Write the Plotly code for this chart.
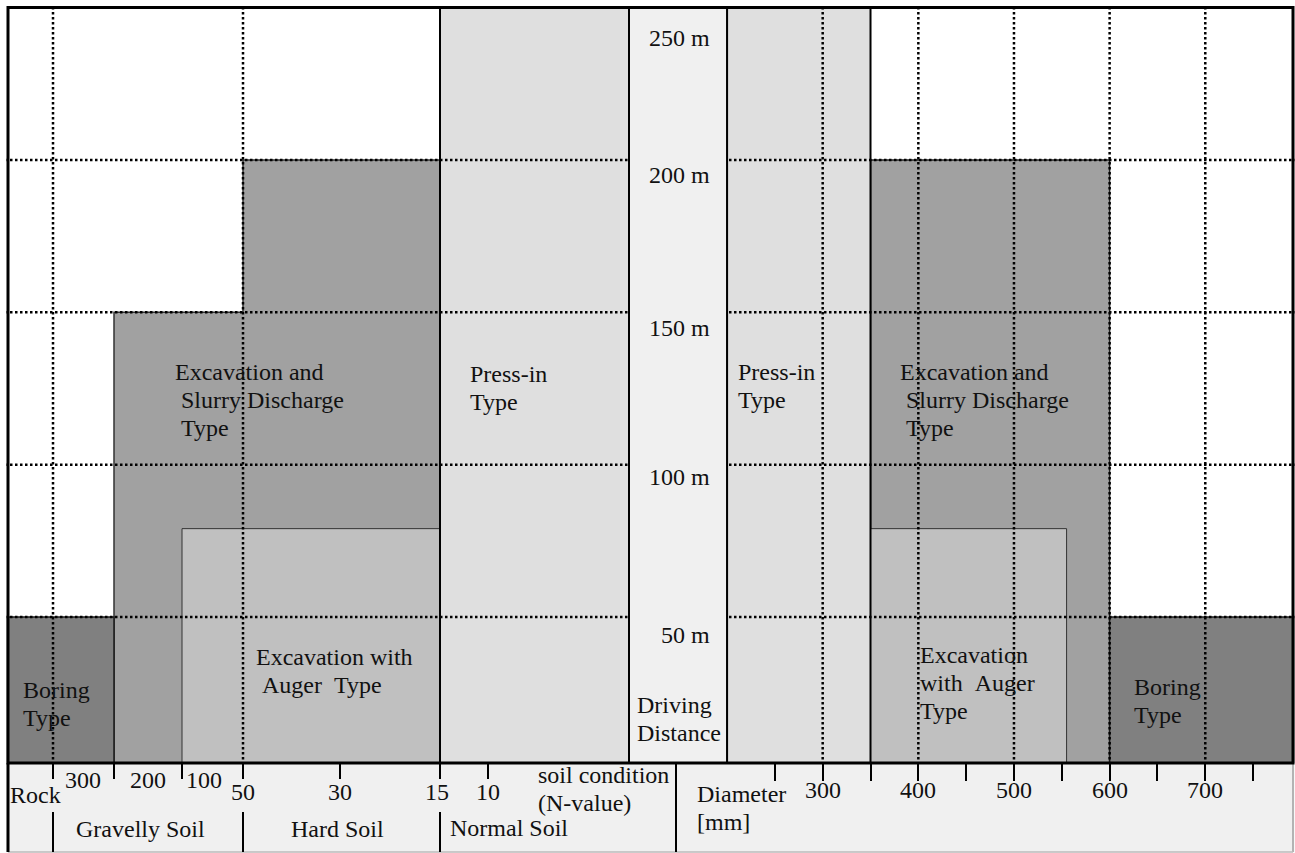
import plotly.graph_objects as go

FIG_W, FIG_H = 1295, 853
PLOT_H = 763  # height of the chart region (panel below)

# ---------------- data ----------------
# soil condition scale (left half): printed N-values and their places on the printed scale
N_VALUES = [300, 200, 100, 50, 30, 15, 10]
N_POS = [53, 114, 182, 243, 340, 440, 488]
SOIL_RANGE = [0, 629]

# diameter scale (right half) in mm
DIAM_TICKS = [250, 300, 350, 400, 450, 500, 550, 600, 650, 700, 750]
DIAM_LABELS = [300, 400, 500, 600, 700]
DIAM_RANGE = [97.5, 793.8]

# driving distance [m]
DIST_TICKS = [250, 200, 150, 100, 50]
DIST_RANGE = [2.1, 252.47]

# method envelopes - soil side: (N from, N to, max driving distance m)
BORING_SOIL = ("Rock", 200, 50)
SLURRY_SOIL_STEPS = [(200, 50, 150), (50, 15, 200)]
AUGER_SOIL = (100, 15, 79)
PRESS_SOIL = (15, "soft", 250)
# method envelopes - diameter side: (mm from, mm to, max driving distance m)
PRESS_DIAM = (200, 350, 250)
SLURRY_DIAM = (350, 600, 200)
AUGER_DIAM = (350, 555, 79)
BORING_DIAM = (600, 800, 50)

SOIL_CLASSES = ["Gravelly Soil", "Hard Soil", "Normal Soil"]

# ---------------- styles ----------------
C_BORING = "#808080"
C_SLURRY = "#a1a1a1"
C_AUGER = "#c0c0c0"
C_PRESS = "#dfdfdf"
C_PANEL = "#f0f0f0"
FONT = "Times New Roman, Liberation Serif, serif"
FSIZE = 24
LINE_GAP = 28
TXT = "#111111"


def npos(n):
    if n == "Rock":
        return SOIL_RANGE[0]
    if n == "soft":
        return SOIL_RANGE[1]
    return N_POS[N_VALUES.index(n)]


def px_x(p):
    return p / FIG_W


def px_y(p):
    return (PLOT_H - p) / PLOT_H


shapes = []


def rect(xref, x0, x1, y0, y1, fill, lc, lw, yref="y", dash=None):
    line = dict(color=lc, width=lw)
    if dash:
        line["dash"] = dash
    shapes.append(dict(type="rect", xref=xref, yref=yref, x0=x0, x1=x1, y0=y0, y1=y1,
                       fillcolor=fill, line=line, layer="above"))


def seg(xref, yref, x0, x1, y0, y1, color="black", width=2, dash=None):
    line = dict(color=color, width=width)
    if dash:
        line["dash"] = dash
    shapes.append(dict(type="line", xref=xref, yref=yref, x0=x0, x1=x1, y0=y0, y1=y1,
                       line=line, layer="above"))


# slurry discharge (left: stepped envelope)
(a0, a1, h1), (b0, b1, h2) = SLURRY_SOIL_STEPS
path = (f"M {npos(a0)},0 L {npos(a0)},{h1} L {npos(a1)},{h1} L {npos(b0)},{h2} "
        f"L {npos(b1)},{h2} L {npos(b1)},0 Z")
shapes.append(dict(type="path", xref="x", yref="y", path=path, fillcolor=C_SLURRY,
                   line=dict(color="#333333", width=1.5), layer="above"))
rect("x2", SLURRY_DIAM[0], SLURRY_DIAM[1], 0, SLURRY_DIAM[2], C_SLURRY, "#222222", 1.5)

# auger
rect("x", npos(AUGER_SOIL[0]), npos(AUGER_SOIL[1]), 0, AUGER_SOIL[2], C_AUGER, "#333333", 1)
rect("x2", AUGER_DIAM[0], AUGER_DIAM[1], 0, AUGER_DIAM[2], C_AUGER, "#333333", 1)

# boring
rect("x", npos(BORING_SOIL[0]), npos(BORING_SOIL[1]), 0, BORING_SOIL[2], C_BORING, "#1a1a1a", 1.5)
rect("x2", BORING_DIAM[0], BORING_DIAM[1], 0, BORING_DIAM[2], C_BORING, "#1a1a1a", 1.5)

# press-in
rect("x", npos(PRESS_SOIL[0]), npos(PRESS_SOIL[1]), 0, PRESS_SOIL[2], C_PRESS, "black", 2)
rect("x2", PRESS_DIAM[0], PRESS_DIAM[1], 0, PRESS_DIAM[2], C_PRESS, "black", 2)

# dotted grid
GRID = dict(color="black", width=2.5, dash="2.5px,2.5px")
for d in DIST_TICKS[1:]:
    seg("x", "y", SOIL_RANGE[0], SOIL_RANGE[1], d, d, **GRID)
    seg("x2", "y", DIAM_RANGE[0], DIAM_RANGE[1], d, d, **GRID)
for n in (300, 50):
    seg("x", "y", npos(n), npos(n), 0, DIST_TICKS[0], **GRID)
for d in DIAM_LABELS:
    seg("x2", "y", d, d, 0, DIST_TICKS[0], **GRID)

# driving distance column
rect("x2", DIAM_RANGE[0], PRESS_DIAM[0], 0, DIST_TICKS[0], C_PANEL, "black", 2)

# white outer margins
rect("paper", 0, px_x(6.5), px_y(FIG_H), 1, "white", "white", 0, yref="paper")
rect("paper", px_x(1294.5), 1, px_y(FIG_H), 1, "white", "white", 0, yref="paper")
rect("paper", 0, 1, px_y(FIG_H), px_y(852.5), "white", "white", 0, yref="paper")

# panel border
seg("paper", "paper", px_x(1293), px_x(1293), px_y(763), px_y(852), color="#777777", width=1)
seg("paper", "paper", px_x(8), px_x(1293), px_y(852), px_y(852), color="#bbbbbb", width=1.5)
seg("paper", "paper", px_x(8), px_x(8), px_y(763), px_y(852), color="black", width=3)
# panel separators
for n in (300, 50, 15):
    seg("x", "paper", npos(n), npos(n), px_y(812), px_y(852), width=2)
seg("paper", "paper", px_x(676), px_x(676), px_y(763), px_y(852), width=2)

# outer frame of chart region
rect("paper", px_x(8), px_x(1293), 0, px_y(7.5), "rgba(0,0,0,0)", "black", 3, yref="paper")

# ---------------- annotations ----------------
ann = []


def txt(text, x, y, xref="x", yref="y", xanchor="left", xshift=0, yshift=0):
    lines = text.split("\n")
    n = len(lines)
    for i, line in enumerate(lines):
        ann.append(dict(text=line, x=x, y=y, xref=xref, yref=yref, xanchor=xanchor,
                        yanchor="middle", showarrow=False, xshift=xshift,
                        yshift=yshift - (i - (n - 1) / 2) * LINE_GAP,
                        borderpad=0, borderwidth=0,
                        font=dict(family=FONT, size=FSIZE, color=TXT)))


NB = "\u00a0"
txt(f"Excavation and\n{NB}Slurry Discharge\n{NB}Type", 175, 121.2)
txt("Press-in\nType", 470, 125.3)
txt(f"Excavation with\n{NB}Auger{NB}{NB}Type", 256, 32.3)
txt("Boring\nType", 23, 21.5)

txt("Press-in\nType", 211.5, 125.8, xref="x2")
txt(f"Excavation and\n{NB}Slurry Discharge\n{NB}Type", 380.9, 121.2, xref="x2")
txt(f"Excavation\nwith{NB}{NB}Auger\nType", 401.8, 28.4, xref="x2")
txt("Boring\nType", 625.5, 22.3, xref="x2")

txt("Driving\nDistance", 105.9, 16.5, xref="x2")
DIST_LABEL_DROP = [10, 5, 5, 4, 6]
for d, drop in zip(DIST_TICKS, DIST_LABEL_DROP):
    txt(f"{d} m", 182.2, d - drop, xref="x2", xanchor="right")

# bottom panel texts
txt("Rock", 10, px_y(795), yref="paper")
UPPER_SHIFT = [30, 34, 22]
for n, s in zip(N_VALUES[:3], UPPER_SHIFT):
    txt(str(n), npos(n), px_y(780), yref="paper", xanchor="center", xshift=s)
for n in N_VALUES[3:]:
    txt(str(n), npos(n), px_y(792), yref="paper", xanchor="center", xshift=-3 if n == 15 else 0)
txt("soil condition\n(N-value)", 538, px_y(789), yref="paper")
txt(SOIL_CLASSES[0], (npos(300) + npos(50)) / 2, px_y(829), yref="paper", xanchor="center", xshift=-8)
txt(SOIL_CLASSES[1], (npos(50) + npos(15)) / 2, px_y(829), yref="paper", xanchor="center", xshift=-4)
txt(SOIL_CLASSES[2], npos(15), px_y(828), yref="paper", xshift=10)

txt("Diameter\n[mm]", 168.6, px_y(807.5), xref="x2", yref="paper")
for d in DIAM_LABELS:
    txt(str(d), d, px_y(790), xref="x2", yref="paper", xanchor="center")

# ---------------- figure ----------------
fig = go.Figure()
fig.add_trace(go.Scatter(x=[], y=[], xaxis="x", yaxis="y", showlegend=False, hoverinfo="skip"))
fig.add_trace(go.Scatter(x=[], y=[], xaxis="x2", yaxis="y", showlegend=False, hoverinfo="skip"))

split = SOIL_RANGE[1] / FIG_W
AX = dict(showgrid=False, zeroline=False, showline=False, fixedrange=True)
fig.update_layout(
    width=FIG_W, height=FIG_H, autosize=False,
    margin=dict(l=0, r=0, t=0, b=FIG_H - PLOT_H, pad=0),
    paper_bgcolor=C_PANEL, plot_bgcolor="white",
    showlegend=False,
    font=dict(family=FONT, size=FSIZE, color=TXT),
    xaxis=dict(domain=[0, split], range=SOIL_RANGE, tickvals=N_POS, ticks="outside",
               ticklen=15, tickwidth=2, tickcolor="black", showticklabels=False, **AX),
    xaxis2=dict(domain=[split, 1], range=DIAM_RANGE, anchor="y", tickvals=DIAM_TICKS,
                ticks="outside", ticklen=17, tickwidth=2, tickcolor="black",
                showticklabels=False, **AX),
    yaxis=dict(range=DIST_RANGE, showticklabels=False, ticks="", **AX),
    shapes=shapes,
    annotations=ann,
)

fig.write_html("out.html", config={"displayModeBar": False},
               post_script="document.body.style.margin='0';document.body.style.overflow='hidden';")
